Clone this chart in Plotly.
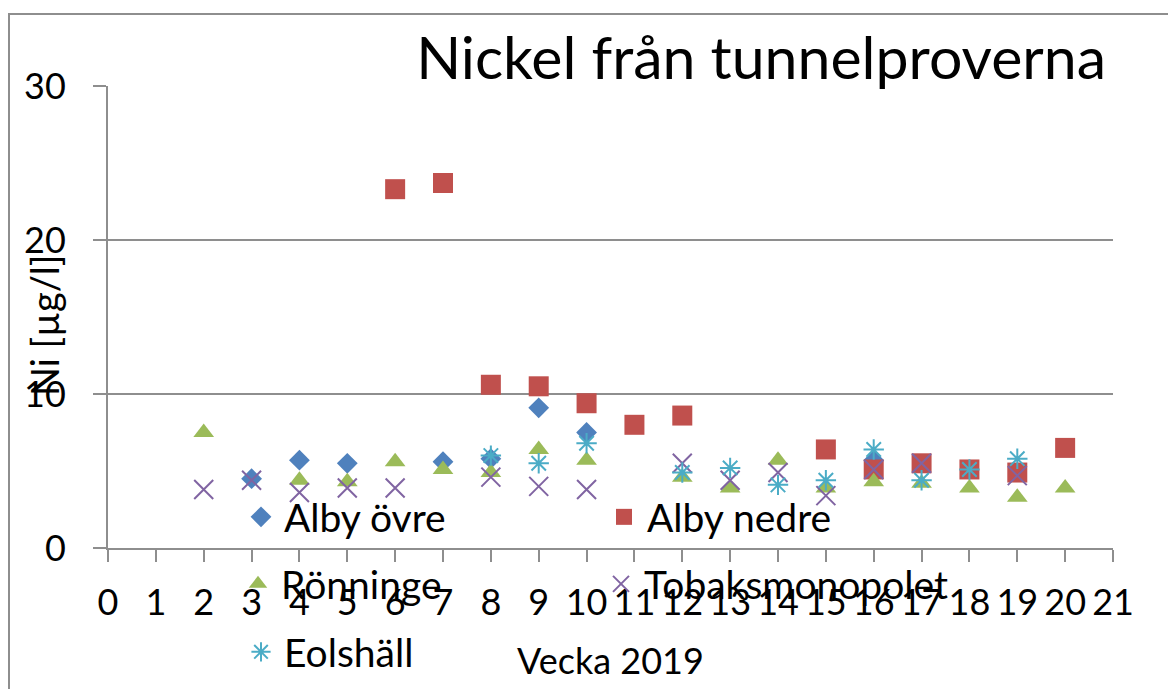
import plotly.graph_objects as go

# ---- data ----
alby_ovre_weeks = [3, 4, 5, 7, 8, 9, 10, 16]
alby_ovre_vals = [4.5, 5.7, 5.5, 5.6, 5.8, 9.1, 7.5, 5.7]

alby_nedre_weeks = [6, 7, 8, 9, 10, 11, 12, 15, 16, 17, 18, 19, 20]
alby_nedre_vals = [23.3, 23.7, 10.6, 10.5, 9.4, 8.0, 8.6, 6.4, 5.1, 5.5, 5.1, 4.9, 6.5]

ronninge_weeks = [2, 4, 5, 6, 7, 8, 9, 10, 12, 13, 14, 15, 16, 17, 18, 19, 20]
ronninge_vals = [7.5, 4.4, 4.3, 5.6, 5.1, 4.9, 6.4, 5.7, 4.6, 3.9, 5.7, 3.9, 4.3, 4.2, 3.9, 3.3, 3.9]

tobak_weeks = [2, 3, 4, 5, 6, 8, 9, 10, 12, 13, 14, 15, 16, 17, 19]
tobak_vals = [3.8, 4.4, 3.6, 3.9, 3.9, 4.6, 4.0, 3.8, 5.5, 4.4, 4.9, 3.4, 5.1, 5.5, 4.7]

eolshall_weeks = [8, 9, 10, 12, 13, 14, 15, 16, 17, 18, 19]
eolshall_vals = [6.0, 5.5, 6.8, 4.9, 5.2, 4.1, 4.4, 6.4, 4.4, 5.1, 5.8]

x_ticks = list(range(0, 22))
y_ticks = [0, 10, 20, 30]

FONT = "Lato"
GRAY = "#8e8e8e"

fig = go.Figure()
fig.add_trace(go.Scatter(x=alby_ovre_weeks, y=alby_ovre_vals, mode="markers", name="Alby övre",
                         marker=dict(symbol="diamond", size=16, color="#4F81BD"), legend="legend"))
fig.add_trace(go.Scatter(x=alby_nedre_weeks, y=alby_nedre_vals, mode="markers", name="Alby nedre",
                         marker=dict(symbol="square", size=20, color="#C0504D"), legend="legend"))
fig.add_trace(go.Scatter(x=ronninge_weeks, y=ronninge_vals, mode="markers", name="Rönninge",
                         marker=dict(symbol="triangle-up", size=18, color="#9BBB59"), legend="legend2"))
fig.add_trace(go.Scatter(x=tobak_weeks, y=tobak_vals, mode="markers", name="Tobaksmonopolet",
                         marker=dict(symbol="x-thin-open", size=19, color="#8064A2",
                                     line=dict(width=2, color="#8064A2")), legend="legend2"))
fig.add_trace(go.Scatter(x=eolshall_weeks, y=eolshall_vals, mode="markers", name="Eolshäll",
                         marker=dict(symbol="asterisk-open", size=17, color="#4BACC6",
                                     line=dict(width=2, color="#4BACC6")), legend="legend3"))

L, R, T, B = 108, 1113, 86, 548
W, H = 1168, 689
pw, ph = R - L, B - T

def px_x(x):
    return (x - L) / pw

def px_y(y):
    return (B - y) / ph

leg_common = dict(orientation="h", xanchor="left", yanchor="middle", entrywidth=312,
                  itemwidth=36,
                  font=dict(family=FONT, size=39, color="black"), bgcolor="rgba(0,0,0,0)",
                  traceorder="normal")

fig.update_layout(
    width=W, height=H,
    margin=dict(l=L, r=W - R, t=T, b=H - B, autoexpand=False),
    paper_bgcolor="white", plot_bgcolor="white",
    font=dict(family=FONT, color="black"),
    title=dict(text="Nickel från tunnelproverna", font=dict(family=FONT, size=59, color="black"),
               x=1106 / W, xanchor="right", xref="container",
               y=1 - 58 / H, yanchor="middle", yref="container"),
    legend=dict(leg_common, x=px_x(238), y=px_y(517)),
    legend2=dict(leg_common, x=px_x(235), y=px_y(584)),
    legend3=dict(leg_common, x=px_x(238), y=px_y(652)),
    xaxis=dict(range=[0, 21], tickvals=x_ticks, showgrid=False, zeroline=False,
               showline=True, linecolor=GRAY, linewidth=2,
               ticks="outside", ticklen=12, tickwidth=2, tickcolor=GRAY,
               tickfont=dict(family=FONT, size=36, color="black"), ticklabelstandoff=10,
               title=dict(text="Vecka 2019", font=dict(family=FONT, size=36, color="black"), standoff=27),
               automargin=False),
    yaxis=dict(range=[0, 30], tickvals=y_ticks, showgrid=True, gridcolor=GRAY, gridwidth=2,
               zeroline=False, showline=True, linecolor=GRAY, linewidth=2,
               ticks="outside", ticklen=13, tickwidth=2, tickcolor=GRAY,
               tickfont=dict(family=FONT, size=36, color="black"), ticklabelstandoff=20,
               automargin=False),
    annotations=[dict(text="Ni [µg/l]", textangle=-90, xref="paper", yref="paper",
                      x=px_x(44), y=px_y(326), xanchor="center", yanchor="middle",
                      showarrow=False, font=dict(family=FONT, size=38, color="black"))],
    shapes=[dict(type="rect", xref="paper", yref="paper", x0=px_x(9), x1=px_x(1190),
                 y0=px_y(710), y1=px_y(14), line=dict(color=GRAY, width=2), layer="below")],
)

fig.write_html("out.html", config={"displayModeBar": False},
               post_script="document.body.style.margin='0';document.body.style.overflow='hidden';")
